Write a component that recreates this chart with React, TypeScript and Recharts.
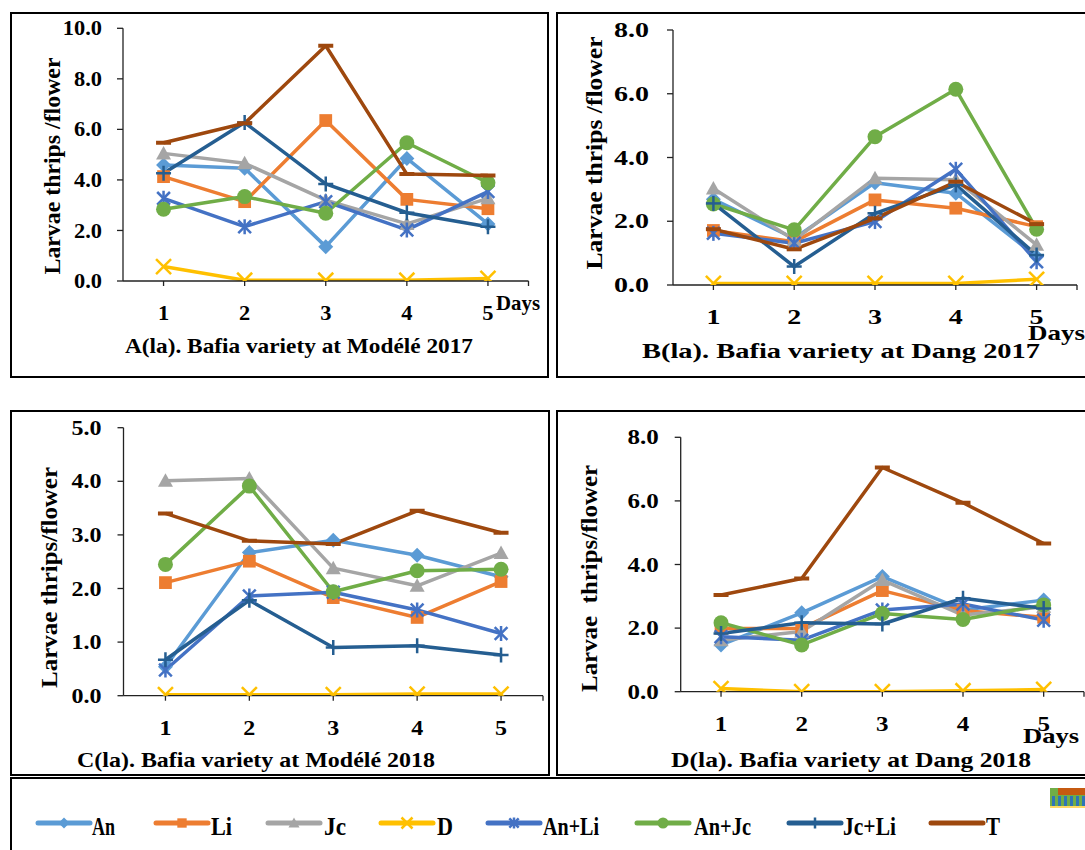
import React from 'react';
import { LineChart, Line, XAxis, YAxis } from 'recharts';

// ---------- data ----------
const days = [1, 2, 3, 4, 5];
const seriesNames = ['An', 'Li', 'Jc', 'D', 'An+Li', 'An+Jc', 'Jc+Li', 'T'];
const seriesColors = ['#5B9BD5', '#ED7D31', '#A5A5A5', '#FFC000', '#4472C4', '#70AD47', '#255E91', '#9E480E'];
const seriesMarkers = ['diamond', 'square', 'triangle', 'x', 'star', 'circle', 'plus', 'dash'];

const modele2017: Record<string, number[]> = {
  An: [4.59, 4.46, 1.36, 4.85, 2.26],
  Li: [4.13, 3.14, 6.35, 3.23, 2.86],
  Jc: [5.05, 4.66, 3.2, 2.26, 3.27],
  D: [0.57, 0.03, 0.03, 0.03, 0.1],
  'An+Li': [3.27, 2.15, 3.14, 2.02, 3.54],
  'An+Jc': [2.84, 3.34, 2.68, 5.47, 3.89],
  'Jc+Li': [4.26, 6.27, 3.84, 2.7, 2.15],
  T: [5.47, 6.24, 9.31, 4.23, 4.17],
};
const dang2017: Record<string, number[]> = {
  An: [2.69, 1.46, 3.21, 2.88, 0.89],
  Li: [1.71, 1.36, 2.67, 2.41, 1.83],
  Jc: [3.03, 1.41, 3.35, 3.3, 1.26],
  D: [0.05, 0.05, 0.05, 0.05, 0.18],
  'An+Li': [1.62, 1.31, 1.99, 3.63, 0.73],
  'An+Jc': [2.54, 1.73, 4.65, 6.14, 1.75],
  'Jc+Li': [2.56, 0.58, 2.25, 3.14, 0.94],
  T: [1.75, 1.12, 2.09, 3.24, 1.91],
};
const modele2018: Record<string, number[]> = {
  An: [0.54, 2.67, 2.9, 2.62, 2.22],
  Li: [2.11, 2.51, 1.83, 1.46, 2.13],
  Jc: [4.01, 4.05, 2.38, 2.05, 2.66],
  D: [0.02, 0.02, 0.02, 0.03, 0.03],
  'An+Li': [0.48, 1.86, 1.93, 1.6, 1.16],
  'An+Jc': [2.45, 3.91, 1.94, 2.33, 2.36],
  'Jc+Li': [0.67, 1.78, 0.9, 0.93, 0.76],
  T: [3.4, 2.89, 2.83, 3.45, 3.04],
};
const dang2018: Record<string, number[]> = {
  An: [1.47, 2.48, 3.62, 2.57, 2.88],
  Li: [1.99, 1.99, 3.18, 2.55, 2.34],
  Jc: [1.62, 1.89, 3.51, 2.41, 2.67],
  D: [0.1, 0.0, 0.0, 0.03, 0.07],
  'An+Li': [1.73, 1.62, 2.57, 2.76, 2.25],
  'An+Jc': [2.17, 1.47, 2.46, 2.27, 2.73],
  'Jc+Li': [1.83, 2.17, 2.13, 2.94, 2.62],
  T: [3.04, 3.56, 7.05, 5.94, 4.66],
};

const ticks10 = [0, 2, 4, 6, 8, 10];
const ticks8 = [0, 2, 4, 6, 8];
const ticks5 = [0, 1, 2, 3, 4, 5];

const titleA = 'A(la). Bafia variety at Modélé 2017';
const titleB = 'B(la). Bafia variety at Dang 2017';
const titleC = 'C(la). Bafia variety at Modélé 2018';
const titleD = 'D(la). Bafia variety at Dang 2018';
const yLabel1 = 'Larvae thrips /flower';
const yLabel2 = 'Larvae thrips/flower';
const yLabel3 = 'Larvae  thrips/flower';
const xUnit = 'Days';

// ---------- helpers ----------
const FF = "'Liberation Serif', 'Times New Roman', serif";
const AXIS = '#222';

function Marker({ shape, cx, cy, color, s }: any) {
  if (cx == null || cy == null) return null;
  switch (shape) {
    case 'diamond':
      return <polygon points={`${cx},${cy - s} ${cx + s},${cy} ${cx},${cy + s} ${cx - s},${cy}`} fill={color} />;
    case 'square':
      return <rect x={cx - s * 0.85} y={cy - s * 0.85} width={s * 1.7} height={s * 1.7} fill={color} />;
    case 'triangle':
      return <polygon points={`${cx},${cy - s} ${cx + s},${cy + s * 0.8} ${cx - s},${cy + s * 0.8}`} fill={color} />;
    case 'x':
      return (
        <g stroke={color} strokeWidth={2.5}>
          <line x1={cx - s} y1={cy - s} x2={cx + s} y2={cy + s} />
          <line x1={cx - s} y1={cy + s} x2={cx + s} y2={cy - s} />
        </g>
      );
    case 'star':
      return (
        <g stroke={color} strokeWidth={2.5}>
          <line x1={cx - s * 0.85} y1={cy - s * 0.85} x2={cx + s * 0.85} y2={cy + s * 0.85} />
          <line x1={cx - s * 0.85} y1={cy + s * 0.85} x2={cx + s * 0.85} y2={cy - s * 0.85} />
          <line x1={cx} y1={cy - s} x2={cx} y2={cy + s} />
        </g>
      );
    case 'circle':
      return <circle cx={cx} cy={cy} r={s} fill={color} />;
    case 'plus':
      return (
        <g stroke={color} strokeWidth={2.5}>
          <line x1={cx - s} y1={cy} x2={cx + s} y2={cy} />
          <line x1={cx} y1={cy - s} x2={cx} y2={cy + s} />
        </g>
      );
    case 'dash':
      return <line x1={cx - s} y1={cy} x2={cx + s} y2={cy} stroke={color} strokeWidth={4} />;
    default:
      return null;
  }
}

function buildRows(panel: Record<string, number[]>) {
  return days.map((d, i) => {
    const row: any = { day: d };
    seriesNames.forEach((name, k) => {
      row['s' + k] = panel[name][i];
    });
    return row;
  });
}

function makeTick(kind: 'x' | 'y', stretch: number) {
  return (props: any) => {
    const { x, y, payload } = props;
    const v = payload.value as number;
    const label = kind === 'x' ? (v === 5.5 ? '' : String(v)) : v.toFixed(1);
    return (
      <g transform={`translate(${x},${y}) scale(${stretch},1)`}>
        <text
          x={0}
          y={0}
          dy={kind === 'x' ? '0.71em' : '0.355em'}
          textAnchor={kind === 'x' ? 'middle' : 'end'}
          fontFamily={FF}
          fontWeight={700}
          fontSize={20}
          fill="#000"
        >
          {label}
        </text>
      </g>
    );
  };
}

function Panel({ data, left, top, width, height, margin, yMax, yTicks, yMarginTick, stretch, title, titleX, titleW, titleY, yLab, yLabX, yLabY, yLabLen, yLabSize, days: dayLab }: any) {
  const rows = buildRows(data);
  return (
    <div style={{ position: 'absolute', left, top, width, height }}>
      <LineChart width={width} height={height} data={rows} margin={margin}>
        <XAxis
          type="number"
          dataKey="day"
          domain={[0.5, 5.5]}
          ticks={[1, 2, 3, 4, 5, 5.5]}
          interval={0}
          allowDataOverflow
          height={40}
          tickSize={5}
          tickMargin={20}
          axisLine={{ stroke: AXIS, strokeWidth: 1.3 }}
          tickLine={{ stroke: AXIS, strokeWidth: 1.3 }}
          tick={makeTick('x', stretch)}
        />
        <YAxis
          type="number"
          domain={[0, yMax]}
          ticks={yTicks}
          interval={0}
          allowDataOverflow
          width={60}
          tickSize={6}
          tickMargin={yMarginTick}
          axisLine={{ stroke: AXIS, strokeWidth: 1.3 }}
          tickLine={{ stroke: AXIS, strokeWidth: 1.3 }}
          tick={makeTick('y', stretch)}
        />
        {seriesNames.map((name, k) => (
          <Line
            key={name}
            type="linear"
            dataKey={'s' + k}
            name={name}
            stroke={seriesColors[k]}
            strokeWidth={3.5}
            strokeLinejoin="round"
            isAnimationActive={false}
            activeDot={false}
            dot={(p: any) => (
              <Marker key={`${name}-${p.index}`} shape={seriesMarkers[k]} cx={p.cx} cy={p.cy} color={seriesColors[k]} s={7.5} />
            )}
          />
        ))}
      </LineChart>
      <svg width={width} height={height} style={{ position: 'absolute', left: 0, top: 0, pointerEvents: 'none', overflow: 'visible' }}>
        <text
          transform={`translate(${yLabX},${yLabY}) rotate(-90)`}
          textAnchor="middle"
          dy="0.35em"
          fontFamily={FF}
          fontWeight={700}
          fontSize={yLabSize}
          textLength={yLabLen}
          lengthAdjust="spacingAndGlyphs"
          style={{ whiteSpace: 'pre' }}
          fill="#000"
        >
          {yLab}
        </text>
        <text x={titleX} y={titleY} fontFamily={FF} fontWeight={700} fontSize={22} textLength={titleW} lengthAdjust="spacingAndGlyphs" fill="#000">
          {title}
        </text>
        {dayLab ? (
          <text x={dayLab.x} y={dayLab.y} fontFamily={FF} fontWeight={700} fontSize={21} textLength={dayLab.w} lengthAdjust="spacingAndGlyphs" fill="#000">
            {xUnit}
          </text>
        ) : null}
      </svg>
    </div>
  );
}

const legendPos = [
  { lx: 38, tx: 92, tw: 23 },
  { lx: 156, tx: 211, tw: 21 },
  { lx: 268, tx: 324, tw: 22 },
  { lx: 381, tx: 437, tw: 16 },
  { lx: 488, tx: 543, tw: 56 },
  { lx: 637, tx: 694, tw: 57 },
  { lx: 789, tx: 843, tw: 53 },
  { lx: 931, tx: 986, tw: 14 },
];

function LegendBox() {
  const y = 45;
  return (
    <svg width={1085} height={72} style={{ position: 'absolute', left: 0, top: 778 }}>
      {seriesNames.map((name, k) => {
        const p = legendPos[k];
        const cx = p.lx + 26;
        return (
          <g key={name}>
            <line x1={p.lx} y1={y} x2={p.lx + 52} y2={y} stroke={seriesColors[k]} strokeWidth={5} strokeLinecap="round" />
            {seriesMarkers[k] !== 'dash' ? (
              <Marker shape={seriesMarkers[k]} cx={cx} cy={y} color={seriesColors[k]} s={5.5} />
            ) : null}
            <text x={p.tx} y={57} fontFamily={FF} fontWeight={700} fontSize={25} textLength={p.tw} lengthAdjust="spacingAndGlyphs" fill="#000">
              {name}
            </text>
          </g>
        );
      })}
      <g>
        <rect x={1050} y={10} width={35} height={20} fill="#70AD47" />
        <rect x={1058} y={10} width={27} height={7} fill="#C55A11" />
        {[1052, 1058, 1064, 1070, 1076, 1082].map((x) => (
          <rect key={x} x={x} y={18} width={3} height={11} fill="#2E75B6" />
        ))}
        <rect x={1050} y={28} width={35} height={2} fill="#FFD966" />
      </g>
    </svg>
  );
}

const borderStyle = (left: number, top: number, width: number, height: number): React.CSSProperties => ({
  position: 'absolute',
  left,
  top,
  width,
  height,
  border: '2px solid #000',
  boxSizing: 'border-box',
});

export default function App() {
  return (
    <div style={{ position: 'absolute', left: 0, top: 0, width: 1085, height: 850, overflow: 'hidden', background: '#fff' }}>
      <div style={borderStyle(10, 12, 539, 366)} />
      <div style={borderStyle(556, 12, 600, 366)} />
      <div style={borderStyle(10, 410, 540, 366)} />
      <div style={borderStyle(556, 410, 600, 366)} />
      <div style={borderStyle(10, 777, 1200, 200)} />

      <Panel
        data={modele2017}
        left={0}
        top={0}
        width={550}
        height={380}
        margin={{ top: 28.3, right: 21.5, bottom: 59, left: 63 }}
        yMax={10}
        yTicks={ticks10}
        yMarginTick={15}
        stretch={1.12}
        title={titleA}
        titleX={125}
        titleW={348}
        titleY={353}
        yLab={yLabel1}
        yLabX={52}
        yLabY={166}
        yLabLen={217}
        yLabSize={23}
        days={{ x: 496, y: 310, w: 44 }}
      />
      <Panel
        data={dang2017}
        left={550}
        top={0}
        width={535}
        height={380}
        margin={{ top: 30, right: 8, bottom: 55, left: 63 }}
        yMax={8}
        yTicks={ticks8}
        yMarginTick={18}
        stretch={1.4}
        title={titleB}
        titleX={92}
        titleW={398}
        titleY={358}
        yLab={yLabel1}
        yLabX={44}
        yLabY={153}
        yLabLen={233}
        yLabSize={24}
        days={{ x: 478, y: 340, w: 57 }}
      />
      <Panel
        data={modele2018}
        left={0}
        top={380}
        width={550}
        height={400}
        margin={{ top: 47.7, right: 7, bottom: 44.3, left: 63.5 }}
        yMax={5}
        yTicks={ticks5}
        yMarginTick={16}
        stretch={1.2}
        title={titleC}
        titleX={77}
        titleW={358}
        titleY={387}
        yLab={yLabel2}
        yLabX={49}
        yLabY={197.5}
        yLabLen={221}
        yLabSize={24}
        days={null}
      />
      <Panel
        data={dang2018}
        left={550}
        top={380}
        width={535}
        height={400}
        margin={{ top: 57.3, right: 1, bottom: 48.3, left: 70.7 }}
        yMax={8}
        yTicks={ticks8}
        yMarginTick={16}
        stretch={1.25}
        title={titleD}
        titleX={121}
        titleW={360}
        titleY={387}
        yLab={yLabel3}
        yLabX={39}
        yLabY={198.5}
        yLabLen={227}
        yLabSize={24}
        days={{ x: 473, y: 363, w: 56 }}
      />
      <LegendBox />
    </div>
  );
}
